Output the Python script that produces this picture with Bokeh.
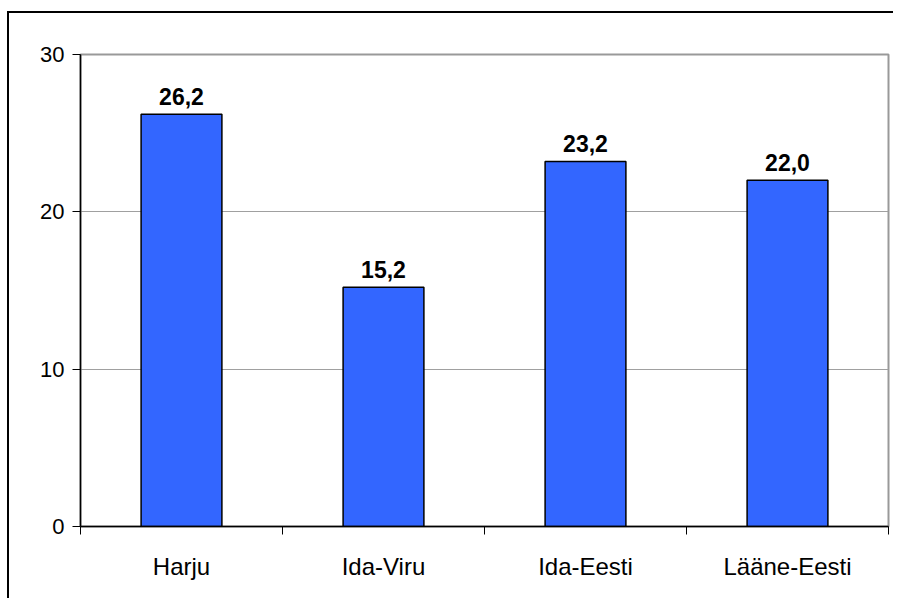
from bokeh.plotting import figure
from bokeh.models import ColumnDataSource, FixedTicker, Range1d, LabelSet
from bokeh.core.properties import value
from bokeh.embed import file_html
from bokeh.resources import INLINE

categories = ["Harju", "Ida-Viru", "Ida-Eesti", "Lääne-Eesti"]
values = [26.2, 15.2, 23.2, 22.0]
value_labels = ["26,2", "15,2", "23,2", "22,0"]
y_ticks = [0, 10, 20, 30]

xs = [i + 0.5 for i in range(len(categories))]
src = ColumnDataSource(dict(x=xs, top=values, lab=value_labels))

p = figure(width=886, height=587, output_backend="svg", toolbar_location=None,
           x_range=Range1d(0, len(categories)), y_range=Range1d(0, 30),
           min_border_left=71, min_border_right=7, min_border_top=41, min_border_bottom=74)
p.styles = {"border-left": "2px solid black", "border-top": "2px solid black",
            "margin-top": "11px", "margin-left": "7px"}

p.vbar(x="x", top="top", width=0.4, bottom=0, source=src,
       fill_color="#3366FF", line_color="black", line_width=1.5)

p.add_layout(LabelSet(x="x", y="top", text="lab", source=src, text_align="center",
                      text_baseline="bottom", y_offset=9,
                      text_font=value("Liberation Sans"),
                      text_font_size="23px", text_font_style="bold", text_color="black"))

p.outline_line_color = "#999999"
p.outline_line_width = 2
p.xgrid.grid_line_color = None
p.ygrid.grid_line_color = "#a0a0a0"
p.ygrid.grid_line_width = 1
p.ygrid.ticker = FixedTicker(ticks=y_ticks)

p.yaxis.ticker = FixedTicker(ticks=y_ticks)
p.yaxis.axis_line_color = "black"
p.yaxis.axis_line_width = 1.5
p.yaxis.major_tick_out = 8
p.yaxis.major_tick_in = 0
p.yaxis.minor_tick_line_color = None
p.yaxis.major_label_standoff = 8
p.yaxis.major_label_text_font = "Liberation Sans"
p.yaxis.major_label_text_font_size = "22px"
p.yaxis.major_label_text_color = "black"

p.xaxis.ticker = FixedTicker(ticks=xs, minor_ticks=list(range(len(categories) + 1)))
p.xaxis.major_label_overrides = {x: c for x, c in zip(xs, categories)}
p.xaxis.axis_line_color = "black"
p.xaxis.axis_line_width = 1.5
p.xaxis.major_tick_out = 0
p.xaxis.major_tick_in = 0
p.xaxis.minor_tick_out = 8
p.xaxis.minor_tick_in = 0
p.xaxis.minor_tick_line_color = "black"
p.xaxis.major_label_standoff = 18
p.xaxis.major_label_text_font = "Liberation Sans"
p.xaxis.major_label_text_font_size = "24px"
p.xaxis.major_label_text_color = "black"

open("out.html", "w").write(file_html(p, INLINE))
